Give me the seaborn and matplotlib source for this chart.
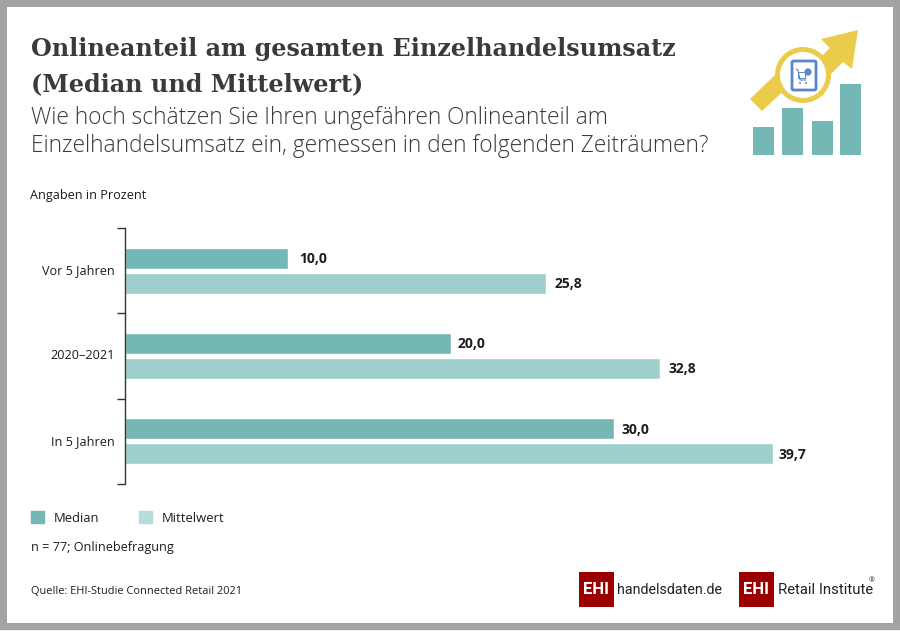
import matplotlib
matplotlib.use("Agg")
import matplotlib.pyplot as plt
from matplotlib.patches import Circle, FancyBboxPatch, Polygon, Rectangle
from matplotlib.transforms import ScaledTranslation
import pandas as pd
import seaborn as sns

W, H = 900, 631

zeitraum = ["Vor 5 Jahren", "2020–2021", "In 5 Jahren"]
median = [10.0, 20.0, 30.0]
mittelwert = [25.8, 32.8, 39.7]
icon_bars = [28, 47, 34, 71]

bar_colors = ["#74b7b5", "#9fcfcd"]
legend_colors = ["#74b7b5", "#b6dcdb"]
text_color = "#1d1d1b"

sns.set_theme(style="white")
plt.rcParams["font.family"] = ["Open Sans", "DejaVu Sans"]

df = pd.DataFrame({"Zeitraum": zeitraum, "Median": median, "Mittelwert": mittelwert})
df = df.melt(id_vars="Zeitraum", var_name="Kennzahl", value_name="Wert")

fig = plt.figure(figsize=(W / 100, H / 100), dpi=100, facecolor="#a3a3a3")

# overlay in pixel coordinates for frame, header, logos
bg = fig.add_axes([0, 0, 1, 1], zorder=0)
bg.set_xlim(0, W)
bg.set_ylim(H, 0)
bg.axis("off")
bg.add_patch(Rectangle((7, 7), 885.5, 616, fc="white", ec="none"))
bg.add_patch(Rectangle((0, 629.5), W, 2, fc="#f0f0f0", ec="none"))

bg.text(31, 49, "Onlineanteil am gesamten Einzelhandelsumsatz", family="DejaVu Serif", weight="bold",
        fontsize=17.2, color="#3a3a3a", va="center")
bg.text(31, 84, "(Median und Mittelwert)", family="DejaVu Serif", weight="bold",
        fontsize=17.2, color="#3a3a3a", va="center")
bg.text(31, 118, "Wie hoch schätzen Sie Ihren ungefähren Onlineanteil am", family="Open Sans",
        weight="light", fontsize=16.4, color="#3a3a3a", va="center")
bg.text(31, 146, "Einzelhandelsumsatz ein, gemessen in den folgenden Zeiträumen?", family="Open Sans",
        weight="light", fontsize=16.4, color="#3a3a3a", va="center")
bg.text(30, 195, "Angaben in Prozent", fontsize=9.05, color=text_color, va="center")
bg.text(31, 548, "n = 77; Onlinebefragung", fontsize=9.05, color=text_color, va="center")
bg.text(31, 591, "Quelle: EHI-Studie Connected Retail 2021", fontsize=7.9, color=text_color, va="center")

# icon top right
yellow = "#ebcb4a"
blue = "#5b87c9"
bg.add_patch(Polygon([(750, 99), (762, 111), (790, 85), (777, 73)], fc=yellow, ec="none"))
bg.add_patch(Polygon([(823, 55), (830, 48), (821, 39), (858, 30), (852, 69), (843, 62), (825, 80)],
                     fc=yellow, ec="none"))
bg.add_patch(Circle((803, 75), 28, fc=yellow, ec="none"))
bg.add_patch(Circle((803, 75), 23, fc="white", ec="none"))
bg.add_patch(FancyBboxPatch((792, 61), 24, 29, boxstyle="round,pad=0,rounding_size=1.5",
                            fc="white", ec=blue, lw=2))
bg.plot([796, 798, 800, 806], [69, 70, 80, 80], color=blue, lw=0.8)
bg.add_patch(Rectangle((798, 72), 7, 6, fc="none", ec=blue, lw=0.7))
bg.add_patch(Circle((808, 72), 3.6, fc=blue, ec="none"))
bg.add_patch(Circle((800, 83), 1, fc=blue, ec="none"))
bg.add_patch(Circle((806, 83), 1, fc=blue, ec="none"))
for x0, hgt in zip([753, 782, 812, 840], icon_bars):
    bg.add_patch(Rectangle((x0, 155 - hgt), 21, hgt, fc="#74b7b5", ec="none"))

# logos
for x0, label, x1, tw in [(579, "handelsdaten.de", 617, 10.3), (739, "Retail Institute", 778, 10.7)]:
    bg.add_patch(Rectangle((x0, 572), 35, 35, fc="#9b0000", ec="none"))
    bg.text(x0 + 17.5, 590, "EHI", family="Roboto", weight="bold", fontsize=12, color="white",
            ha="center", va="center")
    bg.text(x1, 590, label, family="Roboto", fontsize=tw, color="#222222", va="center")
bg.text(872, 581, "®", fontsize=5, color="#222222", ha="center", va="center")

# chart
ax = fig.add_axes([124.5 / W, 1 - 484 / H, 760 / W, 256 / H], zorder=1)
ax.patch.set_alpha(0)
sns.barplot(data=df, y="Zeitraum", x="Wert", hue="Kennzahl", order=zeitraum, palette=bar_colors,
            width=0.586, gap=0.16, saturation=1, ax=ax)
ax.set_xlim(0, 760 / 16.33)
ax.set_ylim(2.5, -0.5)
ax.set_xlabel("")
ax.set_ylabel("")
ax.xaxis.set_visible(False)
for side in ["top", "right", "bottom"]:
    ax.spines[side].set_visible(False)
ax.spines["left"].set_color("#333333")
ax.spines["left"].set_linewidth(1)
ax.set_yticks([-0.5, 0.5, 1.5, 2.5])
ax.set_yticklabels([])
ax.tick_params(axis="y", which="major", left=True, length=5.5, width=1, color="#333333")
ax.set_yticks([0, 1, 2], labels=zeitraum, minor=True)
ax.tick_params(axis="y", which="minor", left=False, pad=3.2, labelsize=9.05, labelcolor=text_color)
up = ScaledTranslation(0, 1.5 / 100, fig.dpi_scale_trans)
for lab in ax.get_yticklabels(minor=True):
    lab.set_transform(lab.get_transform() + up)

label_pads = [[8.5, 4.5, 5], [6.5, 6, 4]]
for cont, pads in zip(ax.containers, label_pads):
    for rect, pad in zip(cont, pads):
        val = rect.get_width()
        ax.annotate(f"{val:.1f}".replace(".", ","), (val, rect.get_y() + rect.get_height() / 2),
                    xytext=(pad, -0.7), textcoords="offset points", va="center", fontsize=10,
                    fontweight="bold", color=text_color)

sns.move_legend(ax, "center left", bbox_to_anchor=(19 / W, 1 - 518 / H), bbox_transform=fig.transFigure,
                ncol=2, title=None, frameon=False, fontsize=9.4, handlelength=1.0, handleheight=1.0,
                handletextpad=0.78, columnspacing=3.0, borderpad=0.4)
leg = ax.get_legend()
for handle, col, txt in zip(leg.get_patches(), legend_colors, leg.get_texts()):
    handle.set_color(col)
    txt.set_color(text_color)

fig.savefig("out.png", dpi=100, facecolor=fig.get_facecolor())
